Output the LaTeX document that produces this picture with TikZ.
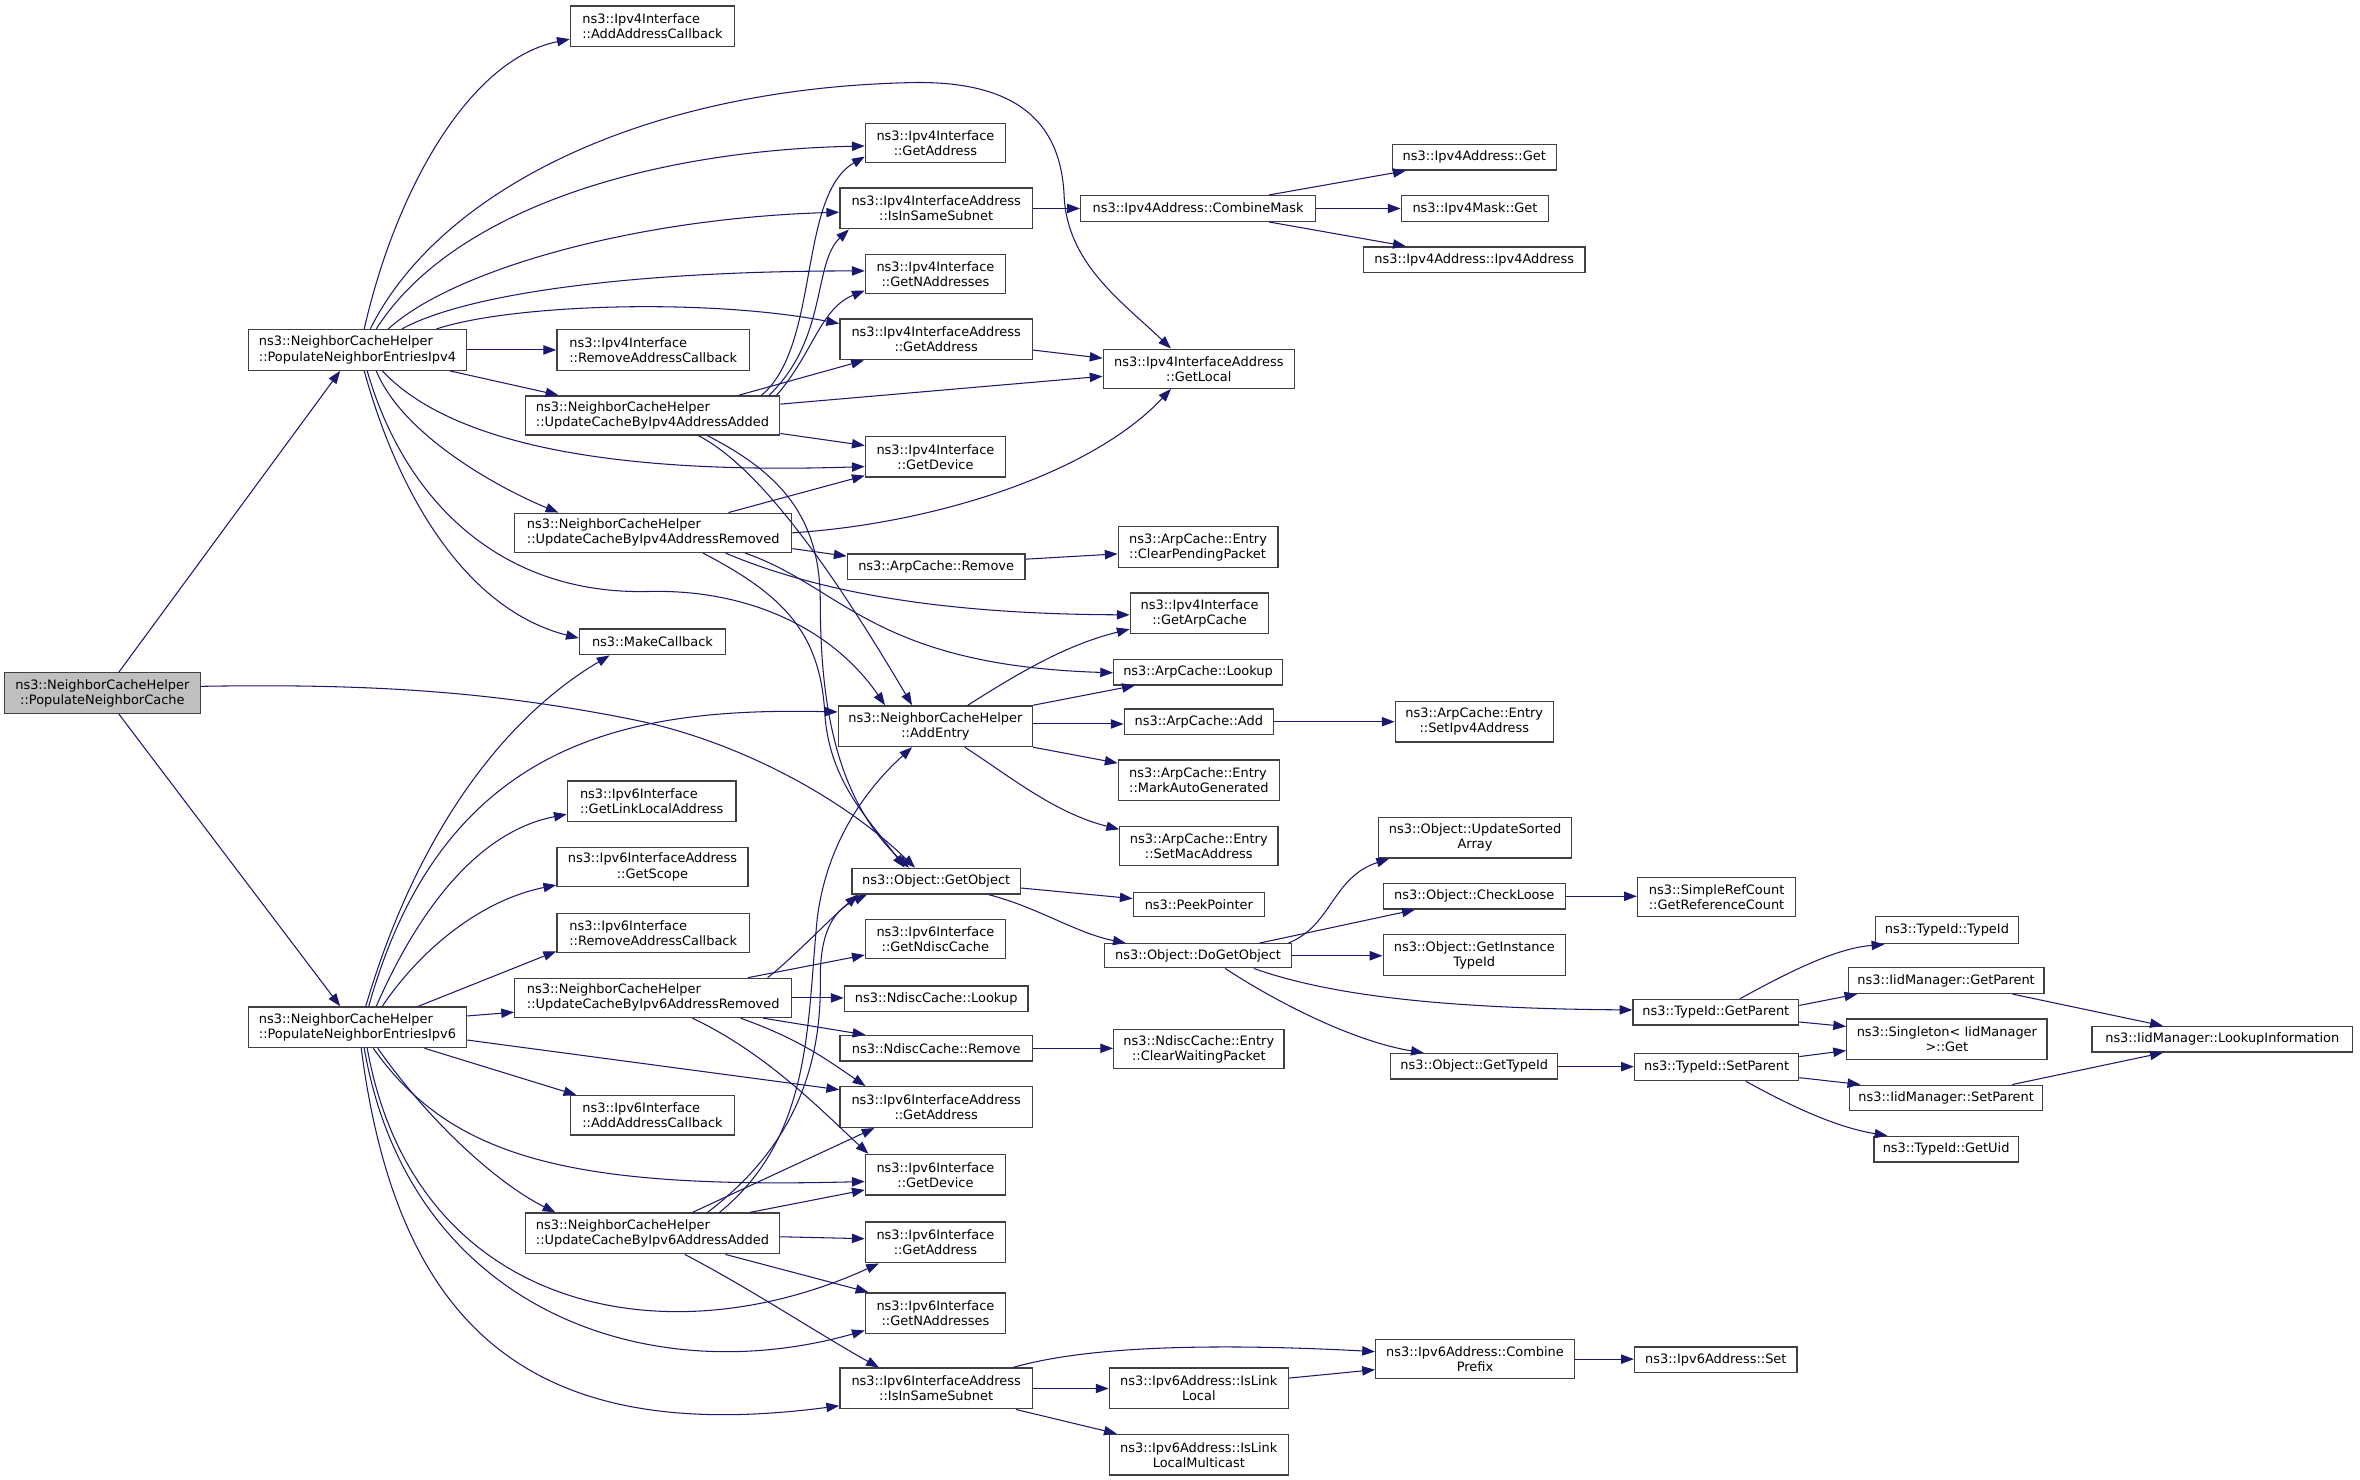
\documentclass[tikz,border=0pt]{standalone}
\usepackage{fontspec}
\newfontfamily\dvs{DejaVu Sans}
\usetikzlibrary{arrows.meta}
\definecolor{mblue}{RGB}{25,25,112}
\definecolor{bord}{RGB}{64,64,64}
\definecolor{rootfill}{RGB}{191,191,191}
\newcommand\fnbox[7][fn]{\node[#1, minimum width={(#5-#3)*1pt}, minimum height={(#6-#4)*1pt}] (#2) at ({(#3+#5)/2},{(#4+#6)/2}) {#7};}
\begin{document}
\begin{tikzpicture}[x=1pt,y=-1pt,
  fn/.style={draw=bord, line width=0.9pt, fill=white, inner sep=0pt, align=center, font=\dvs\fontsize{8.6}{10}\selectfont},
  fnl/.style={fn, align=left},
  root/.style={fn, fill=rootfill},
  e/.style={color=mblue, line width=0.7pt, -{Triangle[length=8.5pt,width=6.2pt]}}]
\fill[white] (0,0) rectangle (1568,983);
\useasboundingbox (0,0) rectangle (1568,983);
% nodes
\fnbox[root]{pnc}{3}{447}{133}{474}{ns3::NeighborCacheHelper\\::PopulateNeighborCache}
\fnbox[fnl]{pe4}{165}{219}{310}{246}{ns3::NeighborCacheHelper\\::PopulateNeighborEntriesIpv4}
\fnbox[fnl]{pe6}{165}{669}{310}{696}{ns3::NeighborCacheHelper\\::PopulateNeighborEntriesIpv6}
\fnbox[fnl]{vfadd}{379}{4}{488}{31}{ns3::Ipv4Interface\\::AddAddressCallback}
\fnbox{vfgetaddr}{575}{82}{668}{108}{ns3::Ipv4Interface\\::GetAddress}
\fnbox{vfsame}{558}{125}{686}{152}{ns3::Ipv4InterfaceAddress\\::IsInSameSubnet}
\fnbox{vfnaddr}{575}{169}{668}{195}{ns3::Ipv4Interface\\::GetNAddresses}
\fnbox{vfiaaddr}{558}{212}{686}{239}{ns3::Ipv4InterfaceAddress\\::GetAddress}
\fnbox[fnl]{vfrem}{370}{219}{498}{246}{ns3::Ipv4Interface\\::RemoveAddressCallback}
\fnbox[fnl]{ucafour}{349}{263}{518}{289}{ns3::NeighborCacheHelper\\::UpdateCacheByIpv4AddressAdded}
\fnbox{vfdev}{575}{290}{668}{317}{ns3::Ipv4Interface\\::GetDevice}
\fnbox{getlocal}{733}{232}{860}{258}{ns3::Ipv4InterfaceAddress\\::GetLocal}
\fnbox{cmask}{718}{130}{874}{147}{ns3::Ipv4Address::CombineMask}
\fnbox{vfget}{925}{96}{1034}{113}{ns3::Ipv4Address::Get}
\fnbox{maskget}{931}{130}{1029}{147}{ns3::Ipv4Mask::Get}
\fnbox{vfctor}{906}{164}{1053}{181}{ns3::Ipv4Address::Ipv4Address}
\fnbox[fnl]{ucrfour}{342}{341}{526}{367}{ns3::NeighborCacheHelper\\::UpdateCacheByIpv4AddressRemoved}
\fnbox{arprem}{563}{368}{681}{385}{ns3::ArpCache::Remove}
\fnbox[fnl]{clearpend}{743}{350}{849}{377}{ns3::ArpCache::Entry\\::ClearPendingPacket}
\fnbox{getarp}{751}{394}{843}{421}{ns3::Ipv4Interface\\::GetArpCache}
\fnbox{arplookup}{740}{438}{852}{455}{ns3::ArpCache::Lookup}
\fnbox{mkcb}{385}{418}{482}{435}{ns3::MakeCallback}
\fnbox{addentry}{557}{469}{686}{496}{ns3::NeighborCacheHelper\\::AddEntry}
\fnbox{arpadd}{747}{471}{846}{488}{ns3::ArpCache::Add}
\fnbox{setv}{927}{466}{1032}{493}{ns3::ArpCache::Entry\\::SetIpv4Address}
\fnbox[fnl]{markauto}{743}{505}{850}{532}{ns3::ArpCache::Entry\\::MarkAutoGenerated}
\fnbox{setmac}{744}{549}{849}{575}{ns3::ArpCache::Entry\\::SetMacAddress}
\fnbox[fnl]{linklocal}{377}{519}{489}{546}{ns3::Ipv6Interface\\::GetLinkLocalAddress}
\fnbox{scope}{370}{563}{497}{589}{ns3::Ipv6InterfaceAddress\\::GetScope}
\fnbox[fnl]{vsrem}{370}{607}{498}{633}{ns3::Ipv6Interface\\::RemoveAddressCallback}
\fnbox[fnl]{ucrsix}{342}{650}{526}{676}{ns3::NeighborCacheHelper\\::UpdateCacheByIpv6AddressRemoved}
\fnbox{getobj}{566}{577}{678}{594}{ns3::Object::GetObject}
\fnbox{peek}{753}{593}{840}{609}{ns3::PeekPointer}
\fnbox{dogetobj}{734}{627}{858}{643}{ns3::Object::DoGetObject}
\fnbox{ndisc}{575}{611}{668}{637}{ns3::Ipv6Interface\\::GetNdiscCache}
\fnbox{ndlookup}{561}{655}{683}{672}{ns3::NdiscCache::Lookup}
\fnbox{ndrem}{558}{688}{686}{705}{ns3::NdiscCache::Remove}
\fnbox{clearwait}{740}{684}{853}{710}{ns3::NdiscCache::Entry\\::ClearWaitingPacket}
\fnbox{vsiaaddr}{558}{722}{686}{749}{ns3::Ipv6InterfaceAddress\\::GetAddress}
\fnbox[fnl]{vsadd}{379}{728}{488}{754}{ns3::Ipv6Interface\\::AddAddressCallback}
\fnbox{vsdev}{575}{767}{668}{794}{ns3::Ipv6Interface\\::GetDevice}
\fnbox[fnl]{ucasix}{349}{806}{518}{833}{ns3::NeighborCacheHelper\\::UpdateCacheByIpv6AddressAdded}
\fnbox{vsgetaddr}{575}{812}{668}{839}{ns3::Ipv6Interface\\::GetAddress}
\fnbox{vsnaddr}{575}{859}{668}{886}{ns3::Ipv6Interface\\::GetNAddresses}
\fnbox{vssame}{558}{909}{686}{936}{ns3::Ipv6InterfaceAddress\\::IsInSameSubnet}
\fnbox{islinklocal}{737}{909}{856}{936}{ns3::Ipv6Address::IsLink\\Local}
\fnbox{islinkmc}{737}{953}{856}{980}{ns3::Ipv6Address::IsLink\\LocalMulticast}
\fnbox{combpfx}{914}{890}{1046}{916}{ns3::Ipv6Address::Combine\\Prefix}
\fnbox{vsset}{1086}{895}{1194}{912}{ns3::Ipv6Address::Set}
\fnbox{usorted}{916}{543}{1044}{570}{ns3::Object::UpdateSorted\\Array}
\fnbox{checkloose}{919}{587}{1040}{604}{ns3::Object::CheckLoose}
\fnbox{refcount}{1088}{583}{1193}{609}{ns3::SimpleRefCount\\::GetReferenceCount}
\fnbox{insttid}{919}{621}{1040}{648}{ns3::Object::GetInstance\\TypeId}
\fnbox{tgetparent}{1085}{664}{1195}{681}{ns3::TypeId::GetParent}
\fnbox{gettid}{924}{700}{1035}{717}{ns3::Object::GetTypeId}
\fnbox{tsetparent}{1086}{700}{1195}{718}{ns3::TypeId::SetParent}
\fnbox{tidctor}{1246}{609}{1341}{627}{ns3::TypeId::TypeId}
\fnbox{igetparent}{1228}{643}{1358}{660}{ns3::IidManager::GetParent}
\fnbox{singleton}{1227}{677}{1360}{704}{ns3::Singleton< IidManager\\ >::Get}
\fnbox{isetparent}{1229}{721}{1357}{738}{ns3::IidManager::SetParent}
\fnbox{getuid}{1245}{755}{1341}{772}{ns3::TypeId::GetUid}
\fnbox{lookupinfo}{1390}{682}{1563}{699}{ns3::IidManager::LookupInformation}
% PNC
\draw[e] (pnc.north -| 79,0) -- (pe4.south -| 226,0);
\draw[e] (pnc.south -| 79,0) -- (pe6.north -| 226,0);
\draw[e] (pnc.east |- 0,456) .. controls (250,454) and (330,460) .. (420,478) .. controls (490,492) and (560,530) .. (getobj.north -| 608,0);
% PE4
\draw[e] (pe4.north -| 242,0) .. controls (262,130) and (310,40) .. (vfadd.west |- 0,26);
\draw[e] (pe4.north -| 246,0) .. controls (290,130) and (420,60) .. (601,55) .. controls (680,52) and (705,85) .. (707,130) .. controls (709,175) and (745,200) .. (getlocal.north -| 778,0);
\draw[e] (pe4.north -| 250,0) .. controls (300,140) and (430,100) .. (vfgetaddr.west |- 0,97);
\draw[e] (pe4.north -| 258,0) .. controls (300,180) and (420,145) .. (vfsame.west |- 0,141);
\draw[e] (pe4.north -| 267,0) .. controls (310,195) and (420,180) .. (vfnaddr.west |- 0,180);
\draw[e] (pe4.north -| 290,0) .. controls (340,202) and (470,198) .. (vfiaaddr.west |- 0,215);
\draw[e] (pe4.east |- 0,232.5) -- (vfrem.west |- 0,232.5);
\draw[e] (pe4.south -| 299,0) -- (ucafour.north -| 371,0);
\draw[e] (pe4.south -| 254,0) .. controls (295,290) and (390,316) .. (vfdev.west |- 0,310);
\draw[e] (pe4.south -| 250,0) .. controls (268,290) and (333,325) .. (ucrfour.north -| 371,0);
\draw[e] (pe4.south -| 242,0) .. controls (265,330) and (310,405) .. (mkcb.west |- 0,424);
\draw[e] (pe4.south -| 244,0) .. controls (268,330) and (330,395) .. (430,393) .. controls (500,391) and (555,420) .. (addentry.north -| 588,0);
% UCA4
\draw[e] (ucafour.north -| 506,0) .. controls (545,230) and (530,130) .. (vfgetaddr.west |- 0,104);
\draw[e] (ucafour.north -| 511,0) .. controls (550,225) and (540,175) .. (vfsame.south -| 564,0);
\draw[e] (ucafour.north -| 516,0) .. controls (540,235) and (545,205) .. (vfnaddr.west |- 0,193);
\draw[e] (ucafour.north -| 491,0) -- (vfiaaddr.south -| 574,0);
\draw[e] (ucafour.east |- 0,268.5) -- (getlocal.west |- 0,250);
\draw[e] (ucafour.east |- 0,288) -- (vfdev.west |- 0,296);
\draw[e] (ucafour.south -| 464,0) .. controls (500,308) and (545,365) .. (addentry.north -| 606,0);
\draw[e] (ucafour.south -| 470,0) .. controls (520,315) and (545,345) .. (545,400) .. controls (545,480) and (560,535) .. (getobj.north -| 604,0);
% UCR4
\draw[e] (ucrfour.north -| 484,0) -- (vfdev.west |- 0,316);
\draw[e] (ucrfour.east |- 0,354) .. controls (620,348) and (725,315) .. (getlocal.south -| 778,0);
\draw[e] (ucrfour.east |- 0,364.5) -- (arprem.west |- 0,369.5);
\draw[e] (ucrfour.south -| 482,0) .. controls (540,392) and (620,408) .. (getarp.west |- 0,408.5);
\draw[e] (ucrfour.south -| 495,0) .. controls (560,390) and (580,442) .. (arplookup.west |- 0,447);
\draw[e] (ucrfour.south -| 467,0) .. controls (520,395) and (545,420) .. (548,474) .. controls (551,520) and (578,545) .. (getobj.north -| 601,0);
% AddEntry
\draw[e] (addentry.north -| 643,0) .. controls (680,445) and (710,428) .. (getarp.west |- 0,418);
\draw[e] (addentry.north east) -- (arplookup.south -| 754,0);
\draw[e] (addentry.east |- 0,481) -- (arpadd.west |- 0,481);
\draw[e] (addentry.south east) -- (markauto.west |- 0,507);
\draw[e] (addentry.south -| 641,0) .. controls (670,515) and (700,540) .. (setmac.west |- 0,551);
\draw[e] (arpadd.east) -- (setv.west);
\draw[e] (arprem.east |- 0,371.5) -- (clearpend.west |- 0,368);
% GetObject
\draw[e] (getobj.east |- 0,590) -- (peek.west |- 0,597);
\draw[e] (getobj.south -| 657,0) .. controls (690,603) and (715,620) .. (dogetobj.north -| 748,0);
% DoGetObject
\draw[e] (dogetobj.north -| 856,0) .. controls (885,615) and (885,583) .. (usorted.south -| 923,0);
\draw[e] (dogetobj.north -| 837,0) -- (checkloose.south -| 940,0);
\draw[e] (dogetobj.east |- 0,635) -- (insttid.west |- 0,635);
\draw[e] (dogetobj.south -| 833,0) .. controls (880,660) and (950,670) .. (tgetparent.west |- 0,671);
\draw[e] (dogetobj.south -| 814,0) .. controls (850,667) and (900,692) .. (gettid.north -| 946,0);
\draw[e] (checkloose.east |- 0,595.5) -- (refcount.west |- 0,595.5);
\draw[e] (gettid.east |- 0,708.7) -- (tsetparent.west |- 0,708.7);
% TypeId
\draw[e] (tgetparent.north -| 1156,0) .. controls (1190,645) and (1220,630) .. (tidctor.south -| 1252,0);
\draw[e] (tgetparent.east |- 0,668) -- (igetparent.south -| 1234,0);
\draw[e] (tgetparent.east |- 0,679) -- (singleton.west |- 0,682);
\draw[e] (tsetparent.east |- 0,702) -- (singleton.west |- 0,698);
\draw[e] (tsetparent.east |- 0,716) -- (isetparent.north -| 1236,0);
\draw[e] (tsetparent.south -| 1160,0) .. controls (1190,735) and (1220,749) .. (getuid.north -| 1254,0);
\draw[e] (igetparent.south -| 1337,0) -- (lookupinfo.north -| 1437,0);
\draw[e] (isetparent.north -| 1337,0) -- (lookupinfo.south -| 1437,0);
% Ipv4 misc
\draw[e] (vfsame.east) -- (cmask.west);
\draw[e] (vfiaaddr.east |- 0,232.6) -- (getlocal.west |- 0,238);
\draw[e] (cmask.north -| 843,0) -- (vfget.south -| 934,0);
\draw[e] (cmask.east) -- (maskget.west);
\draw[e] (cmask.south -| 843,0) -- (vfctor.north -| 934,0);
% PE6
\draw[e] (pe6.north -| 243,0) .. controls (275,560) and (330,480) .. (mkcb.south -| 405,0);
\draw[e] (pe6.north -| 245,0) .. controls (295,490) and (420,470) .. (addentry.west |- 0,473);
\draw[e] (pe6.north -| 250,0) .. controls (280,600) and (320,552) .. (linklocal.west |- 0,541);
\draw[e] (pe6.north -| 254,0) .. controls (280,630) and (320,598) .. (scope.west |- 0,588);
\draw[e] (pe6.north -| 278,0) -- (vsrem.west |- 0,632);
\draw[e] (pe6.east |- 0,675) -- (ucrsix.west |- 0,672.5);
\draw[e] (pe6.east |- 0,691) -- (vsiaaddr.west |- 0,724);
\draw[e] (pe6.south -| 282,0) -- (vsadd.north -| 383,0);
\draw[e] (pe6.south -| 251,0) .. controls (285,745) and (330,786) .. (ucasix.north -| 369,0);
\draw[e] (pe6.south -| 248,0) .. controls (300,770) and (380,790) .. (vsdev.west |- 0,785);
\draw[e] (pe6.south -| 244,0) .. controls (275,870) and (440,905) .. (vsgetaddr.south -| 584,0);
\draw[e] (pe6.south -| 242,0) .. controls (272,870) and (430,925) .. (vsnaddr.west |- 0,884);
\draw[e] (pe6.south -| 240,0) .. controls (265,890) and (360,960) .. (vssame.west |- 0,934);
% UCR6
\draw[e] (ucrsix.north -| 510,0) .. controls (525,638) and (550,612) .. (getobj.south -| 570,0);
\draw[e] (ucrsix.north -| 497,0) -- (ndisc.west |- 0,634.5);
\draw[e] (ucrsix.east |- 0,663) -- (ndlookup.west |- 0,663);
\draw[e] (ucrsix.south -| 507,0) -- (ndrem.north -| 575,0);
\draw[e] (ucrsix.south -| 492,0) .. controls (530,690) and (548,703) .. (vsiaaddr.north -| 575,0);
\draw[e] (ucrsix.south -| 460,0) .. controls (510,700) and (548,740) .. (vsdev.north -| 577,0);
\draw[e] (ndrem.east |- 0,696.5) -- (clearwait.west |- 0,696.5);
% UCA6
\draw[e] (ucasix.north -| 460,0) -- (vsiaaddr.south -| 581,0);
\draw[e] (ucasix.north -| 470,0) .. controls (530,760) and (546,705) .. (545,650) .. controls (545,620) and (553,605) .. (getobj.south -| 576,0);
\draw[e] (ucasix.north -| 478,0) .. controls (540,755) and (536,680) .. (543,610) .. controls (550,555) and (580,520) .. (addentry.south -| 606,0);
\draw[e] (ucasix.north -| 498,0) -- (vsdev.west |- 0,790.6);
\draw[e] (ucasix.east |- 0,821.7) -- (vsgetaddr.west |- 0,823);
\draw[e] (ucasix.south -| 482,0) -- (vsnaddr.north -| 577,0);
\draw[e] (ucasix.south -| 455,0) .. controls (500,857) and (545,887) .. (vssame.north -| 584,0);
% Ipv6 misc
\draw[e] (vssame.north -| 673,0) .. controls (720,895) and (800,892) .. (combpfx.west |- 0,898);
\draw[e] (vssame.east) -- (islinklocal.west);
\draw[e] (vssame.south -| 675,0) -- (islinkmc.north -| 742,0);
\draw[e] (islinklocal.east |- 0,915.6) -- (combpfx.west |- 0,910);
\draw[e] (combpfx.east |- 0,903) -- (vsset.west |- 0,903);
\end{tikzpicture}
\end{document}
